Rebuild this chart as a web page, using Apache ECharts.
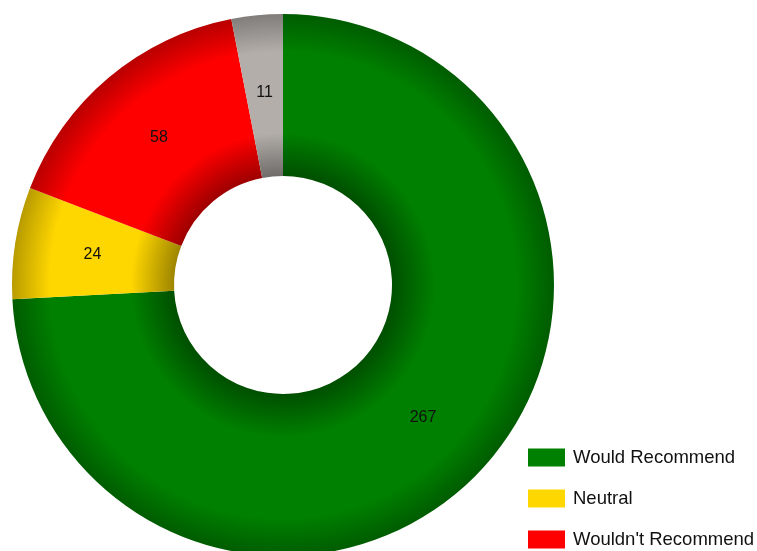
<!DOCTYPE html>
<html>
<head>
<meta charset="utf-8">
<script src="https://cdn.jsdelivr.net/npm/echarts@6/dist/echarts.min.js"></script>
<style>
html,body{margin:0;padding:0;background:#fff;}
#chart{width:757px;height:551px;}
</style>
</head>
<body>
<div id="chart"></div>
<script>
const categories = ["Would Recommend", "Neutral", "Wouldn't Recommend", "Not Sure"];
const values = [267, 24, 58, 11];
const legendNames = ["Would Recommend", "Neutral", "Wouldn't Recommend"];
const baseColors = ["#008000", "#FFD700", "#FF0000", "#B3AEAA"];

const CX = 283, CY = 285, R_IN = 109, R_OUT = 271;

function shade(hex, f) {
  const n = parseInt(hex.slice(1), 16);
  const r = Math.round(((n >> 16) & 255) * f);
  const g = Math.round(((n >> 8) & 255) * f);
  const b = Math.round((n & 255) * f);
  return 'rgb(' + r + ',' + g + ',' + b + ')';
}
function grad(hex) {
  const inner = R_IN / R_OUT;
  return {
    type: 'radial', x: CX, y: CY, r: R_OUT, global: true,
    colorStops: [
      { offset: 0, color: shade(hex, 0.6) },
      { offset: inner, color: shade(hex, 0.62) },
      { offset: inner + 0.16, color: hex },
      { offset: 0.86, color: hex },
      { offset: 1, color: shade(hex, 0.72) }
    ]
  };
}

const chart = echarts.init(document.getElementById('chart'));
chart.setOption({
  animation: false,
  backgroundColor: '#ffffff',
  legend: {
    data: legendNames.map(n => ({
      name: n,
      itemStyle: { color: baseColors[categories.indexOf(n)] }
    })),
    orient: 'vertical',
    left: 523,
    top: 443,
    height: 200,
    padding: 5,
    itemWidth: 37,
    itemHeight: 18,
    itemGap: 22,
    icon: 'rect',
    textStyle: { fontFamily: 'Liberation Sans, Arial, sans-serif', fontSize: 18.5, lineHeight: 18, color: '#111', padding: [0, 0, 0, 3] }
  },
  series: [{
    type: 'pie',
    center: [CX, CY],
    radius: [R_IN, R_OUT],
    startAngle: 90,
    clockwise: true,
    avoidLabelOverlap: false,
    silent: true,
    label: {
      show: true,
      position: 'inside',
      formatter: '{c}',
      color: '#111',
      fontFamily: 'Liberation Sans, Arial, sans-serif',
      fontSize: 16
    },
    labelLine: { show: false },
    itemStyle: { borderWidth: 0 },
    data: categories.map((c, i) => ({
      name: c,
      value: values[i],
      itemStyle: { color: grad(baseColors[i]) }
    }))
  }],
  color: baseColors
});
</script>
</body>
</html>
